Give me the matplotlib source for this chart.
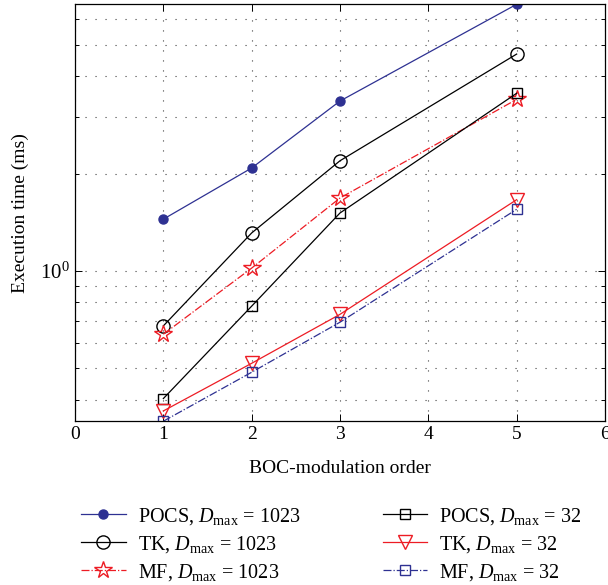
import matplotlib
matplotlib.use("Agg")
import matplotlib.pyplot as plt
from matplotlib.ticker import FixedLocator, NullFormatter

plt.rcParams['font.family'] = ['Liberation Serif', 'DejaVu Serif']
plt.rcParams['mathtext.fontset'] = 'custom'
plt.rcParams['mathtext.rm'] = 'Liberation Serif'
plt.rcParams['mathtext.it'] = 'Liberation Serif:italic'

order = [1, 2, 3, 5]

pocs_1023 = [1.445, 2.08, 3.35, 6.67]
tk_1023 = [0.676, 1.31, 2.19, 4.68]
mf_1023 = [0.637, 1.02, 1.68, 3.39]
pocs_32 = [0.403, 0.778, 1.51, 3.54]
tk_32 = [0.369, 0.518, 0.734, 1.66]
mf_32 = [0.343, 0.486, 0.694, 1.55]

blue = '#2e3192'
red = '#ed1c24'

fig = plt.figure(figsize=(6.08, 5.85), dpi=100)
ax = fig.add_axes([0.1234, 0.280, 0.8716, 0.713])

ax.plot(order, pocs_1023, '-', color=blue, lw=0.9, marker='o', ms=6.5,
        mfc=blue, mec=blue, label=r'POCS, $D_{\mathrm{max}}$ = 1023')
ax.plot(order, tk_1023, '-', color='black', lw=0.9, marker='o', ms=9.5,
        mfc='none', mec='black', label=r'TK, $D_{\mathrm{max}}$ = 1023')
ax.plot(order, mf_1023, '-.', color=red, lw=0.9, marker='*', ms=13,
        mfc='none', mec=red, label=r'MF, $D_{\mathrm{max}}$ = 1023')
ax.plot(order, pocs_32, '-', color='black', lw=0.9, marker='s', ms=7,
        mfc='none', mec='black', label=r'POCS, $D_{\mathrm{max}}$ = 32')
ax.plot(order, tk_32, '-', color=red, lw=0.9, marker='v', ms=9.5,
        mfc='none', mec=red, label=r'TK, $D_{\mathrm{max}}$ = 32')
ax.plot(order, mf_32, '-.', color=blue, lw=0.9, marker='s', ms=7,
        mfc='none', mec=blue, label=r'MF, $D_{\mathrm{max}}$ = 32')

ax.set_yscale('log')
ax.set_xlim(0, 6)
ax.set_ylim(0.343, 6.68)
ax.set_xticks(range(0, 7))
ax.yaxis.set_major_locator(FixedLocator([1.0]))
ax.yaxis.set_minor_locator(FixedLocator([0.4, 0.5, 0.6, 0.7, 0.8, 0.9,
                                         2, 3, 4, 5, 6]))
ax.yaxis.set_minor_formatter(NullFormatter())
ax.set_yticklabels([r'$10^0$'])

ax.tick_params(which='both', direction='in', top=True, right=True,
               labelsize=14, width=0.7)
ax.tick_params(axis='y', labelsize=15)
ax.tick_params(which='major', length=5)
ax.tick_params(which='minor', length=3)

grid_style = dict(color='0.25', linestyle=(0, (1, 8)), linewidth=0.8)
ax.grid(True, which='major', axis='both', **grid_style)
ax.grid(True, which='minor', axis='y', **grid_style)

for sp in ax.spines.values():
    sp.set_linewidth(0.9)

ax.set_xlabel('BOC-modulation order', fontsize=14, labelpad=12)
ax.set_ylabel('Execution time (ms)', fontsize=14, labelpad=8)

fig.legend(loc='lower center', bbox_to_anchor=(0.545, -0.027), ncol=2,
           frameon=False, fontsize=14.5, handlelength=2.2, columnspacing=4.1,
           labelspacing=0.35, handletextpad=0.6)

fig.savefig('out.png', dpi=100)
